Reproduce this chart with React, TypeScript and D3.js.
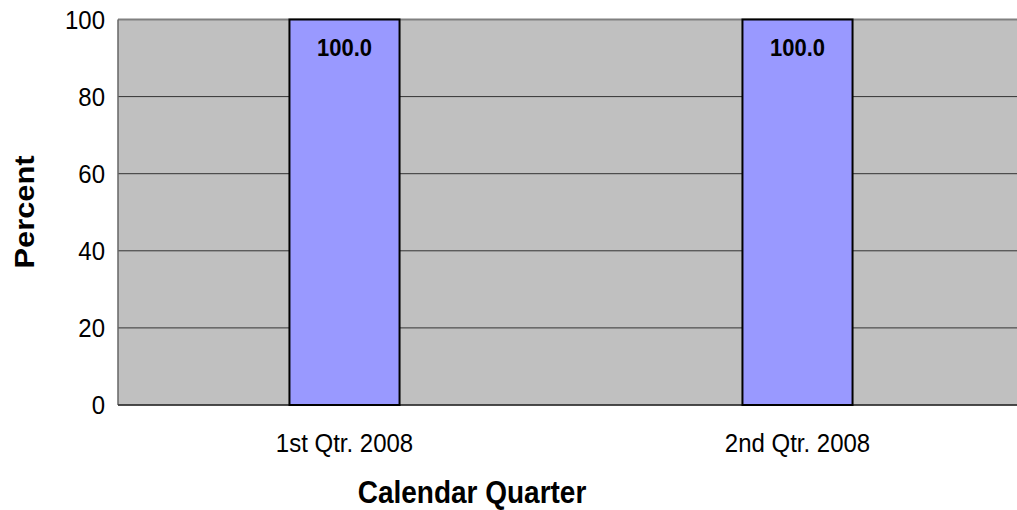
import React from "react";
import * as d3 from "d3";

const categories = ["1st Qtr. 2008", "2nd Qtr. 2008"];
const values = [100.0, 100.0];
const yTicks = [0, 20, 40, 60, 80, 100];

const font = "Liberation Sans, Arial, sans-serif";
const SY = 1.1;

function T(props: { x: number; y: number; size: number; bold?: boolean; anchor?: string; rotate?: number; children: React.ReactNode }) {
  const { x, y, size, bold, anchor = "middle", rotate = 0, children } = props;
  const tr = rotate
    ? `translate(${x},${y}) rotate(${rotate}) scale(${SY},1)`
    : `translate(${x},${y}) scale(1,${SY})`;
  return (
    <text transform={tr} textAnchor={anchor} fontFamily={font} fontWeight={bold ? "bold" : "normal"} fontSize={size} fill="#000">
      {children}
    </text>
  );
}

export default function App() {
  const W = 1017, H = 510;
  const left = 118, right = 1024, top = 19.5, bottom = 405;
  const x = d3.scaleBand<string>().domain(categories).range([left, right]).paddingInner(0).paddingOuter(0);
  const y = d3.scaleLinear().domain([0, 100]).range([bottom, top]);
  const barW = x.bandwidth() * 0.243;
  return (
    <svg width={W} height={H} style={{ position: "absolute", left: 0, top: 0, background: "#fff" }}>
      <rect x={left} y={top} width={right - left} height={bottom - top} fill="#c0c0c0" />
      {yTicks.map((t) => (
        <line key={t} x1={left} x2={right} y1={y(t)} y2={y(t)} stroke={t === 100 ? "#808080" : "#333"} strokeWidth={t === 100 ? 2 : 1} />
      ))}
      <line x1={left} x2={left} y1={top} y2={bottom} stroke="#666" strokeWidth={1.5} />
      <line x1={left} x2={right} y1={bottom} y2={bottom} stroke="#333" strokeWidth={1.5} />
      {categories.map((c, i) => {
        const cx = (x(c) as number) + x.bandwidth() / 2;
        return (
          <g key={c}>
            <rect x={cx - barW / 2} y={y(values[i])} width={barW} height={bottom - y(values[i])} fill="#9999ff" stroke="#000" strokeWidth={2} />
            <T x={cx} y={y(values[i]) + 36} size={22} bold>{values[i].toFixed(1)}</T>
            <T x={cx} y={bottom + 47} size={24}>{c}</T>
          </g>
        );
      })}
      {yTicks.map((t) => (
        <T key={t} x={left - 13} y={y(t) + 9} size={24} anchor="end">{t}</T>
      ))}
      <T x={472} y={503} size={28} bold>Calendar Quarter</T>
      <T x={34} y={212} size={28} bold rotate={-90}>Percent</T>
    </svg>
  );
}
